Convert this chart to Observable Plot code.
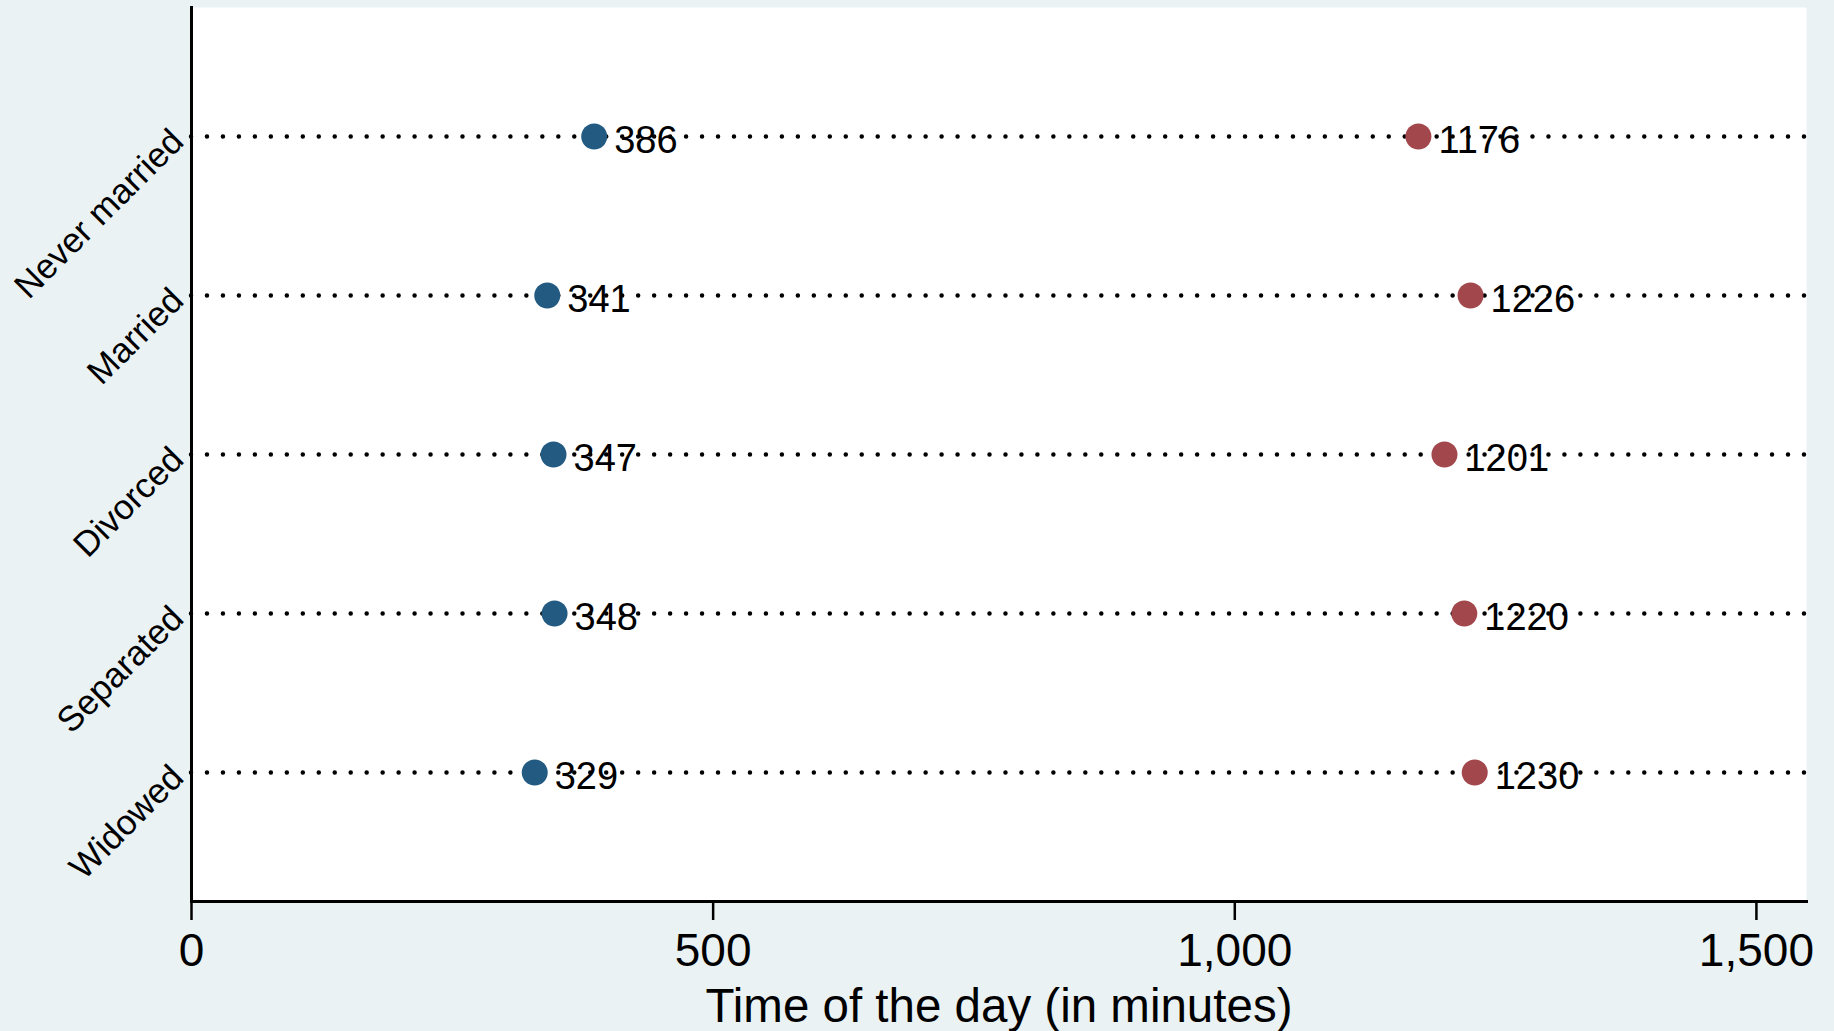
<!DOCTYPE html>
<html>
<head>
<meta charset="utf-8">
<script src="https://cdn.jsdelivr.net/npm/d3@7"></script>
<script src="https://cdn.jsdelivr.net/npm/@observablehq/plot@0.6"></script>
<style>
  html, body { margin: 0; padding: 0; background: #EAF2F3; }
  #chart svg { display: block; }
</style>
</head>
<body>
<div id="chart"></div>
<script>
const categories = ["Never married", "Married", "Divorced", "Separated", "Widowed"];
const wakeTimes = [386, 341, 347, 348, 329];
const sleepTimes = [1176, 1226, 1201, 1220, 1230];
const xTicks = [0, 500, 1000, 1500];
const xLabel = "Time of the day (in minutes)";

const points = [];
categories.forEach((c, i) => {
  points.push({status: c, value: wakeTimes[i], series: "wake"});
  points.push({status: c, value: sleepTimes[i], series: "sleep"});
});

const font = "'Liberation Sans', Arial, Helvetica, sans-serif";

const chart = Plot.plot({
  width: 1834,
  height: 1031,
  marginLeft: 191,
  marginRight: 28,
  marginTop: 7,
  marginBottom: 130,
  style: {background: "transparent", fontFamily: font},
  x: {domain: [0, 1548]},
  y: {type: "point", domain: categories, padding: 0.81, axis: null},
  color: {domain: ["wake", "sleep"], range: ["#225a82", "#a2474c"]},
  marks: [
    Plot.frame({fill: "white", stroke: null}),
    Plot.ruleY(categories, {y: d => d, stroke: "black", strokeWidth: 4.5, strokeDasharray: "0 15.97", strokeLinecap: "round"}),
    Plot.frame({anchor: "left", stroke: "black", strokeWidth: 3}),
    Plot.frame({anchor: "bottom", stroke: "black", strokeWidth: 3}),
    Plot.axisX({ticks: xTicks, tickFormat: d3.format(","), tickSize: 19, tickPadding: 13, fontSize: 46, stroke: "black", strokeWidth: 2.5, label: null, color: "black"}),
    Plot.text([xLabel], {frameAnchor: "bottom", text: d => d, dy: 120, lineAnchor: "bottom", fontSize: 47.5, fill: "black"}),
    Plot.text(categories, {y: d => d, text: d => d, frameAnchor: "left", dx: -14, dy: -1, rotate: -45, textAnchor: "end", fontSize: 35, fill: "black"}),
    Plot.dot(points, {x: "value", y: "status", fill: "series", r: 13}),
    Plot.text(points, {x: "value", y: "status", text: d => String(d.value), dx: 20, dy: 4, textAnchor: "start", fontSize: 38, fill: "black"})
  ]
});
document.getElementById("chart").appendChild(chart);
</script>
</body>
</html>
